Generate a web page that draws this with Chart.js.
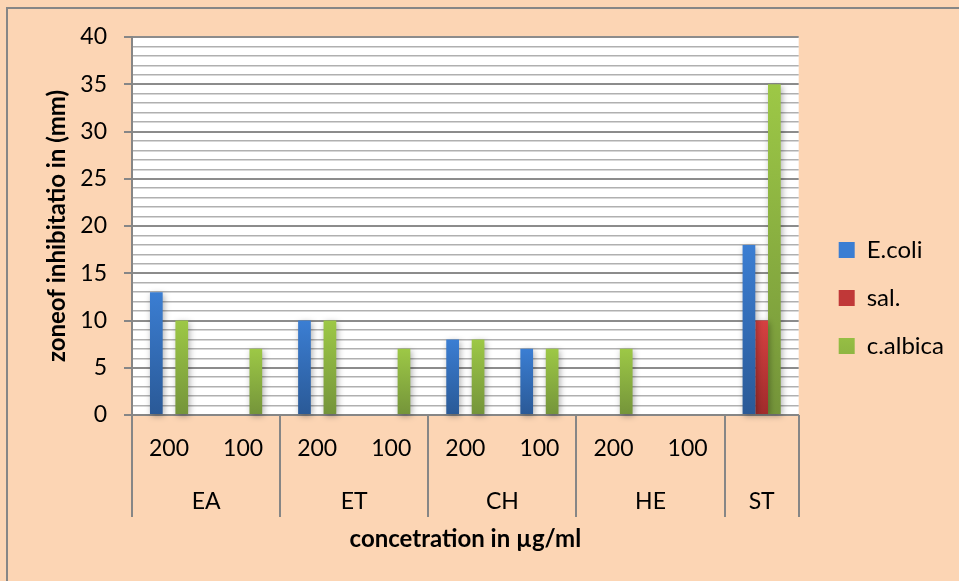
<!DOCTYPE html>
<html>
<head>
<meta charset="utf-8">
<script src="https://cdn.jsdelivr.net/npm/chart.js@4/dist/chart.umd.min.js"></script>
<style>
  html, body { margin: 0; padding: 0; background: #FCD5B4; }
  #wrap { width: 959px; height: 581px; }
</style>
</head>
<body>
<div id="wrap"><canvas id="chart" width="959" height="581"></canvas></div>
<script>
// Zone of inhibition (mm) per extract and concentration
const doseLabels = ['200', '100', '200', '100', '200', '100', '200', '100', ''];
const groupNames = ['EA', 'ET', 'CH', 'HE', 'ST'];
const groupSpans = [2, 2, 2, 2, 1];
const ecoliValues = [13, 0, 10, 0, 8, 7, 0, 0, 18];
const salValues = [0, 0, 0, 0, 0, 0, 0, 0, 10];
const albicaValues = [10, 7, 10, 7, 8, 7, 7, 0, 35];
const yTickValues = [0, 5, 10, 15, 20, 25, 30, 35, 40];

const FONT = 'Lato, "Open Sans", sans-serif';
const AXIS_GRAY = '#868686';

// vertical gradient per bar, light at the top, dark at the base
function barFill(topColor, bottomColor, flat) {
  return (c) => {
    const chart = c.chart;
    if (c.type !== 'data' || !chart.chartArea || !chart.scales.y) return flat;
    const y = chart.scales.y;
    const yTop = y.getPixelForValue(c.parsed.y);
    const yBot = y.getPixelForValue(0);
    if (!isFinite(yTop) || yBot - yTop < 1) return flat;
    const g = chart.ctx.createLinearGradient(0, yTop, 0, yBot);
    g.addColorStop(0, topColor);
    g.addColorStop(1, bottomColor);
    return g;
  };
}

const backdrop = {
  id: 'backdrop',
  beforeDraw(chart) {
    const { ctx, chartArea: a } = chart;
    ctx.save();
    ctx.fillStyle = '#FCD5B4';
    ctx.fillRect(0, 0, chart.width, chart.height);
    ctx.strokeStyle = AXIS_GRAY;
    ctx.lineWidth = 2;
    ctx.strokeRect(7, 8, 1000, 1000);
    ctx.fillStyle = '#FFFFFF';
    ctx.fillRect(a.left, a.top, a.right - a.left, a.bottom - a.top);
    ctx.restore();
  }
};

const barShadow = {
  id: 'barShadow',
  beforeDatasetsDraw(chart) {
    const ctx = chart.ctx;
    ctx.save();
    ctx.shadowColor = 'rgba(0,0,0,0.32)';
    ctx.shadowBlur = 6;
    ctx.shadowOffsetX = 1.5;
    ctx.shadowOffsetY = 2;
  },
  afterDatasetsDraw(chart) {
    chart.ctx.restore();
  }
};

// two-level category axis: group separators and group names below the dose labels
const groupAxis = {
  id: 'groupAxis',
  afterDraw(chart) {
    const { ctx, chartArea: a } = chart;
    const x = chart.scales.x;
    const bottom = a.bottom + 102;
    ctx.save();
    ctx.strokeStyle = AXIS_GRAY;
    ctx.lineWidth = 2;
    ctx.fillStyle = '#000';
    ctx.font = '23px ' + FONT;
    ctx.textAlign = 'center';
    ctx.textBaseline = 'middle';
    let start = 0;
    const edges = [0];
    groupSpans.forEach((span, i) => {
      const end = start + span;
      edges.push(end);
      const cx = x.getPixelForValue((start + end - 1) / 2);
      ctx.fillText(groupNames[i], cx, a.bottom + 87);
      start = end;
    });
    edges.forEach((e) => {
      const px = Math.round(x.getPixelForValue(e - 0.5));
      ctx.beginPath();
      ctx.moveTo(px, a.bottom);
      ctx.lineTo(px, bottom);
      ctx.stroke();
    });
    ctx.restore();
  }
};

new Chart(document.getElementById('chart'), {
  type: 'bar',
  data: {
    labels: doseLabels,
    datasets: [
      { label: 'E.coli', data: ecoliValues, backgroundColor: barFill('#3B7ED3', '#2A5996', '#3469B5') },
      { label: 'sal.', data: salValues, backgroundColor: barFill('#D54141', '#A02B2B', '#C03838') },
      { label: 'c.albica', data: albicaValues, backgroundColor: barFill('#9DC846', '#74943A', '#8AB043') }
    ]
  },
  options: {
    responsive: false,
    animation: false,
    devicePixelRatio: 1,
    layout: { padding: { top: 37, bottom: 22, left: 0, right: 5 } },
    datasets: { bar: { categoryPercentage: 0.515, barPercentage: 1, borderWidth: 0, clip: false } },
    plugins: {
      legend: {
        position: 'right',
        labels: {
          font: { family: FONT, size: 24 },
          color: '#000',
          boxWidth: 16,
          boxHeight: 16,
          padding: 24
        }
      },
      tooltip: { enabled: false }
    },
    scales: {
      x: {
        grid: { display: false, drawTicks: false },
        border: { display: true, color: AXIS_GRAY, width: 2 },
        ticks: { font: { family: FONT, size: 23 }, color: '#000', padding: 20, maxRotation: 0, autoSkip: false },
        title: {
          display: true,
          text: 'concetration in µg/ml',
          font: { family: FONT, size: 24, weight: 'bold' },
          color: '#000',
          padding: { top: 0, bottom: 5 }
        },
        afterFit(s) { s.height = 144; }
      },
      y: {
        min: 0,
        max: 40,
        grid: {
          color: (c) => (c.tick && c.tick.value % 5 === 0 ? '#8C8C8C' : '#B0B0B0'),
          lineWidth: (c) => (c.tick && c.tick.value % 5 === 0 ? 2 : 1.5),
          tickColor: (c) => (c.tick && c.tick.value % 5 === 0 ? AXIS_GRAY : 'rgba(0,0,0,0)'),
          tickLength: 8,
          tickWidth: 2
        },
        border: { display: true, color: AXIS_GRAY, width: 2 },
        ticks: {
          stepSize: 1,
          autoSkip: false,
          padding: 17,
          font: { family: FONT, size: 23 },
          color: '#000',
          callback: (v) => (yTickValues.includes(v) ? String(v) : '')
        },
        title: {
          display: true,
          text: 'zoneof inhibitatio in (mm)',
          font: { family: FONT, size: 24, weight: 'bold' },
          color: '#000',
          padding: { top: 43, bottom: 0 }
        },
        afterFit(s) { s.width = 132; }
      },
      gap: {
        type: 'linear',
        axis: 'y',
        position: 'right',
        display: true,
        grid: { display: false, drawTicks: false },
        border: { display: false },
        ticks: { display: false },
        afterFit(s) { s.width = 16; }
      }
    }
  },
  plugins: [backdrop, barShadow, groupAxis]
});
</script>
</body>
</html>
